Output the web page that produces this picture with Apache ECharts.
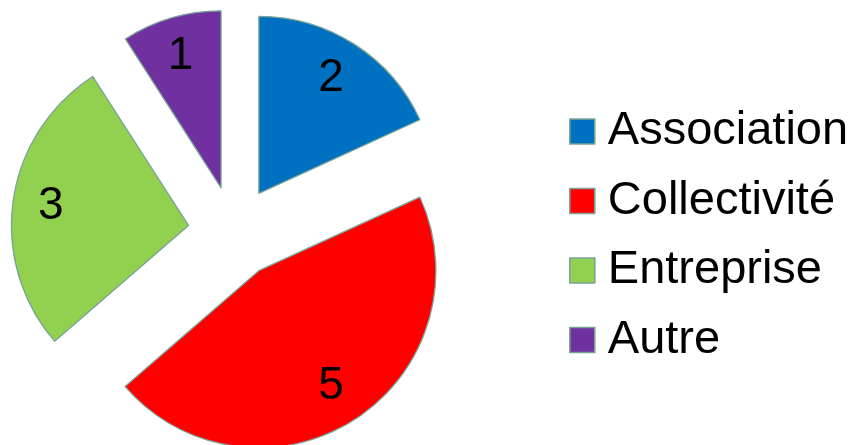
<!DOCTYPE html>
<html>
<head>
<meta charset="utf-8">
<script src="https://cdn.jsdelivr.net/npm/echarts@6/dist/echarts.min.js"></script>
<style>
html,body{margin:0;padding:0;background:#fff;}
#chart{width:854px;height:445px;}
</style>
</head>
<body>
<div id="chart"></div>
<script>
const categories = ['Association', 'Collectivité', 'Entreprise', 'Autre'];
const values = [2, 5, 3, 1];
const colors = ['#0070C0', '#FF0000', '#92D050', '#7030A0'];

const borderColor = '#7BA396';
const center = [234, 232];
const offset = 46;

const chart = echarts.init(document.getElementById('chart'), null, {renderer: 'canvas'});

const sliceData = categories.map((name, i) => ({
  name: name,
  value: values[i],
  selected: true,
  itemStyle: {color: colors[i]}
}));
const labelData = categories.map((name, i) => ({
  name: name,
  value: values[i],
  selected: true
}));

chart.setOption({
  animation: false,
  backgroundColor: '#ffffff',
  legend: {
    orient: 'vertical',
    left: 569,
    top: 108,
    padding: 0,
    data: categories,
    icon: 'rect',
    itemWidth: 25,
    itemHeight: 25,
    itemGap: 22.5,
    selectedMode: false,
    itemStyle: {borderColor: borderColor, borderWidth: 1.6},
    textStyle: {
      fontFamily: 'Liberation Sans, Arial, sans-serif',
      fontSize: 47,
      color: '#000',
      padding: [0, 0, 0, 8]
    }
  },
  series: [
    {
      type: 'pie',
      center: center,
      radius: 177,
      startAngle: 90,
      clockwise: true,
      selectedMode: 'multiple',
      selectedOffset: offset,
      silent: true,
      itemStyle: {borderColor: borderColor, borderWidth: 1.3},
      label: {show: false},
      labelLine: {show: false},
      emphasis: {disabled: true},
      data: sliceData
    },
    {
      type: 'pie',
      center: center,
      radius: [106, 162],
      startAngle: 90,
      clockwise: true,
      selectedMode: 'multiple',
      selectedOffset: offset,
      silent: true,
      itemStyle: {color: 'rgba(0,0,0,0)', borderWidth: 0},
      label: {
        show: true,
        position: 'inside',
        formatter: '{c}',
        fontFamily: 'Liberation Sans, Arial, sans-serif',
        fontSize: 46,
        color: '#000',
        padding: [10, 4, 0, 0]
      },
      labelLine: {show: false},
      emphasis: {disabled: true},
      data: labelData
    }
  ]
});
</script>
</body>
</html>
